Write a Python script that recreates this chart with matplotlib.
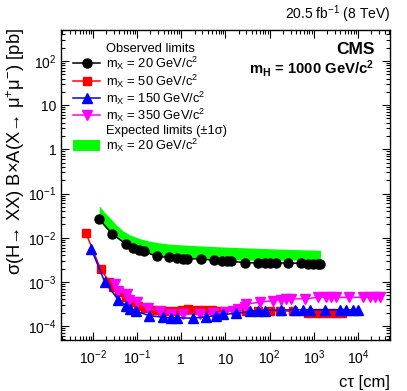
"""CMS displaced dimuon limits vs c*tau for m_H = 1000 GeV/c^2."""

import math

import matplotlib
matplotlib.use("Agg")
import matplotlib.pyplot as plt
from matplotlib.lines import Line2D
from matplotlib.ticker import (LogLocator, FixedLocator, FuncFormatter,
                               NullFormatter)

plt.rcParams["font.family"] = ["Liberation Sans", "DejaVu Sans"]
plt.rcParams["mathtext.fontset"] = "custom"
plt.rcParams["mathtext.rm"] = "Liberation Sans"
plt.rcParams["mathtext.it"] = "Liberation Sans:italic"
plt.rcParams["mathtext.bf"] = "Liberation Sans:bold"
plt.rcParams["mathtext.default"] = "regular"

# Observed limits, m_X = 20 GeV/c^2
ct_20 = [0.0139, 0.0273, 0.0558, 0.0817, 0.112, 0.143, 0.276, 0.532, 0.807,
         1.07, 1.36, 2.73, 5.47, 8.17, 10.6, 13.7, 27.5, 55, 77.9, 101, 138,
         262, 527, 743, 964, 1250, 1420]
obs_20 = [0.0264, 0.0121, 0.0072, 0.00573, 0.00527, 0.0049, 0.00379, 0.00359,
          0.00348, 0.00336, 0.0033, 0.00336, 0.00307, 0.00292, 0.00292, 0.00292,
          0.00273, 0.00268, 0.00268, 0.00268, 0.00268, 0.00268, 0.00263, 0.0026,
          0.0026, 0.0026, 0.0026]

# Observed limits, m_X = 50 GeV/c^2
ct_50 = [0.0070, 0.0149, 0.0234, 0.0288, 0.0394, 0.0558, 0.0752, 0.104, 0.150,
         0.231, 0.358, 0.497, 0.716, 1.03, 1.43, 2.22, 3.24, 4.92, 7.46, 17.8,
         30, 54, 101, 170, 335, 731, 1110, 1600, 2300, 3310, 4300]
obs_50 = [0.0125, 0.00196, 0.00102, 0.000755, 0.000582, 0.000466, 0.000347,
          0.000292, 0.000254, 0.000233, 0.000225, 0.000225, 0.000225, 0.000237,
          0.000241, 0.000237, 0.000237, 0.000232, 0.000225, 0.000225, 0.000225,
          0.00022, 0.000214, 0.000225, 0.000214, 0.000203, 0.000197, 0.000197,
          0.000197, 0.000197, 0.000197]

# Observed limits, m_X = 150 GeV/c^2
ct_150 = [0.00916, 0.0187, 0.0373, 0.0558, 0.0688, 0.094, 0.188, 0.378, 0.573,
          0.783, 1.80, 3.73, 5.97, 8.87, 17.8, 35.6, 55, 77.8, 186, 372, 573,
          813, 1770, 3870, 5500, 7750, 10000]
obs_150 = [0.00556, 0.00098, 0.000398, 0.000292, 0.000245, 0.000217, 0.000173,
           0.000159, 0.000154, 0.000154, 0.000151, 0.000162, 0.000173, 0.000183,
           0.000195, 0.000214, 0.000225, 0.000225, 0.000233, 0.000233, 0.000233,
           0.000233, 0.000233, 0.000233, 0.000233, 0.000233, 0.000233]

# Observed limits, m_X = 350 GeV/c^2
ct_350 = [0.0315, 0.0373, 0.0578, 0.0662, 0.100, 0.178, 0.328, 0.573, 1.10,
          2.64, 5.27, 9.69, 14.5, 19.4, 27.5, 30, 62.2, 120, 186, 241, 313, 625,
          1250, 1940, 2510, 3260, 6290, 13000, 18500, 24000, 31100]
obs_350 = [0.000917, 0.000637, 0.000536, 0.000393, 0.000347, 0.000259, 0.000217,
           0.00019, 0.000183, 0.00019, 0.000195, 0.000206, 0.000225, 0.000245,
           0.000267, 0.000318, 0.000347, 0.000379, 0.000398, 0.000408, 0.000413,
           0.000413, 0.000449, 0.000449, 0.000449, 0.000449, 0.000445, 0.000449,
           0.000449, 0.000449, 0.000449]

# Expected limits (+-1 sigma), m_X = 20 GeV/c^2
exp_ct = [0.0139, 0.018, 0.0243, 0.033, 0.0477, 0.07, 0.116, 0.18, 0.281, 0.6,
          2.25, 8, 35.6, 200, 1420]
exp_hi = [0.053, 0.038, 0.0282, 0.020, 0.0144, 0.0115, 0.0095, 0.0085, 0.0078,
          0.0071, 0.0066, 0.0062, 0.00585, 0.0055, 0.0052]
exp_lo = [0.024, 0.018, 0.0135, 0.0105, 0.0080, 0.0064, 0.0052, 0.0046, 0.0041,
          0.0038, 0.0035, 0.0033, 0.0031, 0.0031, 0.0032]

x_range = (1.9e-3, 5.3e4)
y_range = (4.8e-5, 500)

fig = plt.figure(figsize=(4.07, 3.91), dpi=100)
ax = fig.add_axes([0.150, 0.130, 0.808, 0.793])

band = ax.fill_between(exp_ct, exp_lo, exp_hi, color="#00ff00", linewidth=0,
                       zorder=1)
l20, = ax.plot(ct_20, obs_20, color="black", marker="o", markersize=6.5,
               linewidth=1.1, zorder=5)
l50, = ax.plot(ct_50, obs_50, color="#ff0000", marker="s", markersize=5.5,
               linewidth=1.1, zorder=2)
l350, = ax.plot(ct_350, obs_350, color="#ff00ff", marker="v", markersize=6.5,
                linewidth=1.1, zorder=3)
l150, = ax.plot(ct_150, obs_150, color="#0000ff", marker="^", markersize=6.5,
                linewidth=1.1, zorder=4)

ax.set_xscale("log")
ax.set_yscale("log")
ax.set_xlim(*x_range)
ax.set_ylim(*y_range)


def log_label(v, pos):
    n = int(round(math.log10(v)))
    if n == 0:
        return "1"
    if n == 1:
        return "10"
    return "$10^{%d}$" % n


def decades(lo, hi):
    return [10.0 ** n for n in range(math.ceil(math.log10(lo)),
                                     math.floor(math.log10(hi)) + 1)]


for axis, lims in ((ax.xaxis, x_range), (ax.yaxis, y_range)):
    axis.set_major_locator(FixedLocator(decades(*lims)))
    axis.set_minor_locator(LogLocator(base=10, subs="auto", numticks=20))
    axis.set_major_formatter(FuncFormatter(log_label))
    axis.set_minor_formatter(NullFormatter())

ax.tick_params(which="both", direction="in", top=True, right=True,
               labelsize=10, width=0.8)
ax.tick_params(which="major", length=6)
ax.tick_params(which="minor", length=3)
ax.tick_params(axis="y", which="major", pad=3.5)
ax.tick_params(axis="x", which="major", pad=17.5)
# baseline-align the x tick labels so "1" and "10" sit with the powers
for t in ax.xaxis.get_major_ticks():
    t.label1.set_verticalalignment("baseline")
for s in ax.spines.values():
    s.set_linewidth(1.0)

ax.set_xlabel("c\u03c4 [cm]", fontsize=12, ha="right", va="top")
ax.xaxis.set_label_coords(1.0, -0.112)
ax.set_ylabel("\u03c3(H\u2192 XX) B\u00d7A(X\u2192 \u03bc$^{+}$\u03bc$^{-}$) [pb]",
              fontsize=13.2, ha="right", va="bottom")
ax.yaxis.set_label_coords(-0.103, 1.006)

blank = Line2D([], [], linestyle="none", marker="none")
handles = [blank, l20, l50, l150, l350, blank, band]
labels = ["Observed limits",
          "m$_X$ = 20 GeV/c$^2$",
          "m$_X$ = 50 GeV/c$^2$",
          "m$_X$ = 150 GeV/c$^2$",
          "m$_X$ = 350 GeV/c$^2$",
          "Expected limits (\u00b11\u03c3)",
          "m$_X$ = 20 GeV/c$^2$"]
ax.legend(handles, labels, loc="upper left", bbox_to_anchor=(0.0, 1.0),
          frameon=False, fontsize=9.3, handlelength=2.1, handletextpad=0.45,
          labelspacing=0.0, borderaxespad=0.6, borderpad=0.35,
          handleheight=0.85)

ax.text(0.954, 0.939, "CMS", transform=ax.transAxes, ha="right", va="center",
        fontsize=12.5, fontweight="bold")
ax.text(0.951, 0.876, r"$\mathbf{m_{H}}$ = 1000 GeV/c$\mathbf{^{2}}$",
        transform=ax.transAxes, ha="right", va="center", fontsize=10.7,
        fontweight="bold")
ax.text(1.0, 1.015, "20.5 fb$^{-1}$ (8 TeV)", transform=ax.transAxes,
        ha="right", va="bottom", fontsize=10)

fig.savefig("out.png", dpi=100)
